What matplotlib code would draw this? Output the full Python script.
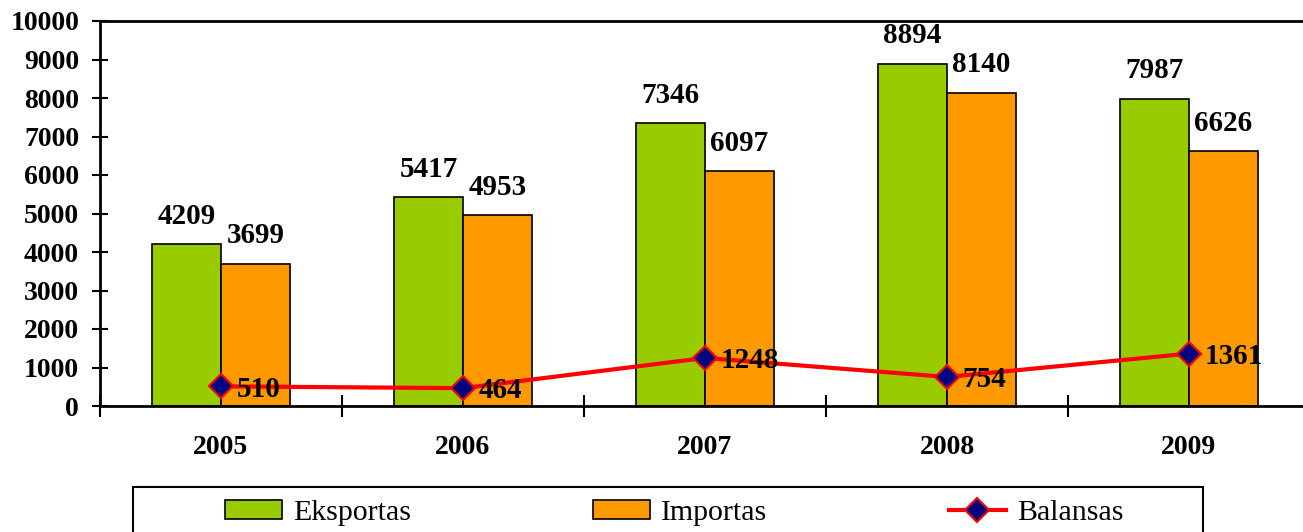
import matplotlib.pyplot as plt
from matplotlib.patches import Rectangle
import numpy as np

years = ['2005', '2006', '2007', '2008', '2009']
eksportas = [4209, 5417, 7346, 8894, 7987]
importas = [3699, 4953, 6097, 8140, 6626]
balansas = [510, 464, 1248, 754, 1361]

plt.rcParams['font.family'] = ['Liberation Serif', 'DejaVu Serif']

fig = plt.figure(figsize=(13.03, 5.32), dpi=100)
ax = fig.add_axes([100 / 1303, 1 - 406 / 532, 1210 / 1303, 385 / 532])

x = np.arange(len(years))
w = 0.285
bars_e = ax.bar(x - w / 2, eksportas, w, color='#99CC00', edgecolor='black', linewidth=1.2, label='Eksportas', zorder=2)
bars_i = ax.bar(x + w / 2, importas, w, color='#FF9900', edgecolor='black', linewidth=1.2, label='Importas', zorder=2)
line, = ax.plot(x, balansas, color='#FF0000', linewidth=3, marker='D', markersize=12,
                markerfacecolor='#000080', markeredgecolor='#FF0000', markeredgewidth=1.5,
                label='Balansas', zorder=3)

# value labels
for xi, v in zip(x - w / 2, eksportas):
    ax.annotate(str(v), (xi, v), xytext=(0, 20), textcoords='offset points',
                ha='center', va='center', fontsize=21, fontweight='bold')
for xi, v in zip(x + w / 2, importas):
    ax.annotate(str(v), (xi, v), xytext=(0, 20), textcoords='offset points',
                ha='center', va='center', fontsize=21, fontweight='bold')
for xi, v in zip(x, balansas):
    ax.annotate(str(v), (xi, v), xytext=(11, -2), textcoords='offset points',
                ha='left', va='center', fontsize=21, fontweight='bold', zorder=4)

ax.set_xlim(-0.5, len(years) - 0.5)
ax.set_ylim(0, 10000)
ax.set_yticks(range(0, 10001, 1000))
ax.tick_params(axis='y', direction='inout', length=12, width=1.5, pad=9, labelsize=20)
for lab in ax.get_yticklabels():
    lab.set_fontweight('bold')

ax.set_xticks(x)
ax.set_xticklabels(years, fontsize=20, fontweight='bold')
ax.tick_params(axis='x', which='major', length=0, pad=21)
ax.set_xticks(np.arange(-0.5, len(years), 1), minor=True)
ax.tick_params(axis='x', which='minor', direction='inout', length=16, width=1.5)

for s in ['left', 'bottom', 'top', 'right']:
    ax.spines[s].set_linewidth(2)

# legend frame, cut by the bottom edge
fig.patches.append(Rectangle((133 / 1303, -0.05), 1070 / 1303, 0.05 + 1 - 487 / 532,
                             transform=fig.transFigure, fill=False, edgecolor='black', linewidth=1.5))
leg = fig.legend(handles=[bars_e, bars_i, line], loc='center left', bbox_to_anchor=(225 / 1303, 1 - 513 / 532),
                 ncol=3, frameon=False, fontsize=21.5, handlelength=1.9, handleheight=0.6,
                 handletextpad=0.37, columnspacing=6.1, borderpad=0, borderaxespad=0)

fig.savefig('out.png', dpi=100)
